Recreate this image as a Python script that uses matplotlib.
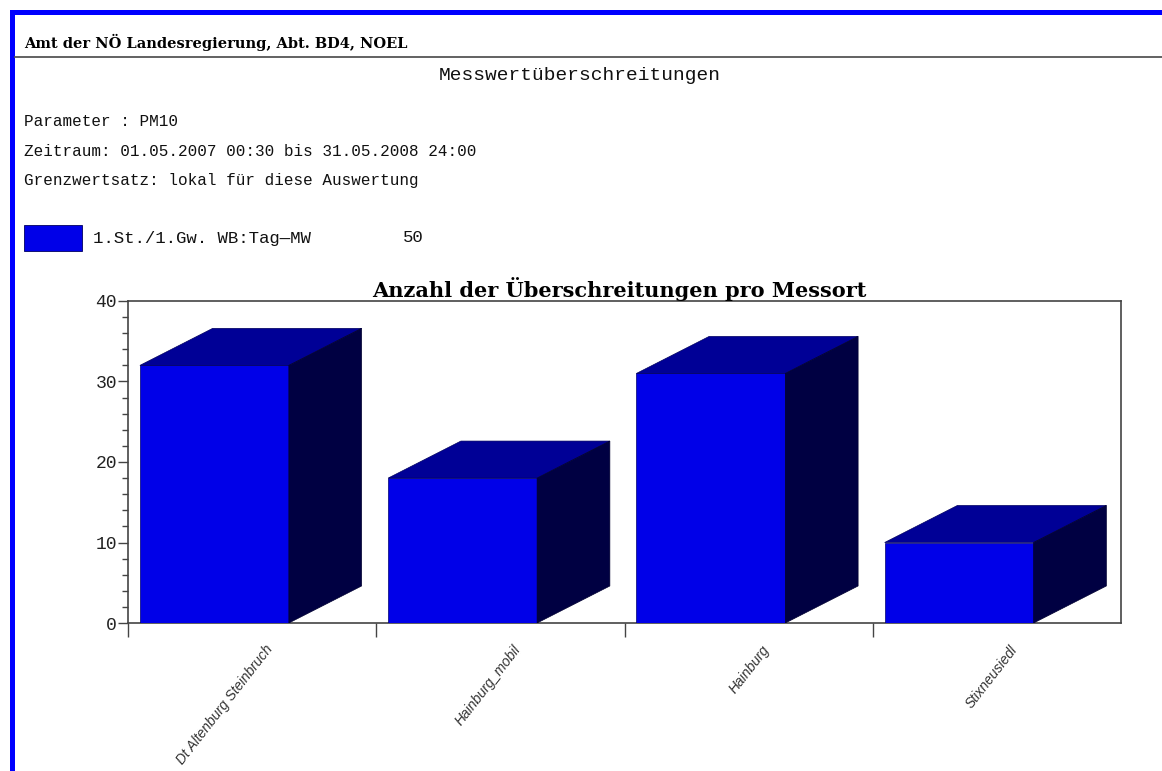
import matplotlib
matplotlib.use("Agg")
from matplotlib import pyplot as plt
from matplotlib.patches import Polygon, Rectangle
from matplotlib.lines import Line2D
from matplotlib.ticker import MultipleLocator, FixedLocator, NullFormatter

# data
stations = ["Dt Altenburg Steinbruch", "Hainburg_mobil", "Hainburg", "Stixneusiedl"]
counts = [32, 18, 31, 10]

header = "Amt der NÖ Landesregierung, Abt. BD4, NOEL"
report_title = "Messwertüberschreitungen"
info_lines = ["Parameter : PM10",
              "Zeitraum: 01.05.2007 00:30 bis 31.05.2008 24:00",
              "Grenzwertsatz: lokal für diese Auswertung"]
legend_label = "1.St./1.Gw. WB:Tag\u2014MW"
legend_value = "50"
chart_title = "Anzahl der Überschreitungen pro Messort"

W, H = 1162, 771
MONO = "Liberation Mono"


def px(x, y):
    # pixel position (from top left) -> figure fraction
    return x / W, 1 - y / H


def main():
    fig = plt.figure(figsize=(W / 100, H / 100), dpi=100)
    fig.patch.set_facecolor("white")

    # blue frame top and left
    fig.add_artist(Rectangle(px(10, 15), (W - 10) / W, 5 / H, transform=fig.transFigure,
                             facecolor="#0000FF", edgecolor="none"))
    fig.add_artist(Rectangle(px(10, H), 5 / W, (H - 10) / H, transform=fig.transFigure,
                             facecolor="#0000FF", edgecolor="none"))
    # grey rule under the header
    x0, y0 = px(15, 57)
    fig.add_artist(Line2D([x0, 1], [y0, y0], transform=fig.transFigure, color="#555555", lw=1.3))

    fig.text(*px(24, 42), header, family="DejaVu Serif", weight="bold", fontsize=10.5,
             va="center", ha="left")
    fig.text(*px(580, 76), report_title, family=MONO, fontsize=14,
             va="center", ha="center", color="#111111")
    for i, line in enumerate(info_lines):
        fig.text(*px(24, 122 + 29 * i), line, family=MONO, fontsize=11.5,
                 va="center", ha="left", color="#111111")

    # legend box
    fig.add_artist(Rectangle(px(24, 251), 58 / W, 26 / H, transform=fig.transFigure,
                             facecolor="#0000E8", edgecolor="#000060", lw=0.6))
    fig.text(*px(93, 238), legend_label, family=MONO, fontsize=12.5,
             va="center", ha="left", color="#111111")
    fig.text(*px(403, 238), legend_value, family=MONO, fontsize=12.5,
             va="center", ha="left", color="#111111")

    # chart
    ax = fig.add_axes([128 / W, (H - 623) / H, 993 / W, 322 / H])
    ax.set_xlim(0, 4)
    ax.set_ylim(0, 40)

    front = "#0000E8"
    top = "#000096"
    side = "#000042"
    offset, width = 0.048, 0.6
    dx, dy = 0.293, 4.6
    lefts = [i + offset for i in range(len(counts))]
    ax.bar(lefts, counts, width=width, align="edge", color=front,
           edgecolor="#000070", lw=0.5, zorder=3)
    for left, v in zip(lefts, counts):
        right = left + width
        ax.add_patch(Polygon([(left, v), (left + dx, v + dy), (right + dx, v + dy), (right, v)],
                             closed=True, facecolor=top, edgecolor="#000060", lw=0.5, zorder=3))
        ax.add_patch(Polygon([(right, 0), (right + dx, dy), (right + dx, v + dy), (right, v)],
                             closed=True, facecolor=side, edgecolor="#000030", lw=0.5, zorder=3))

    ax.set_title(chart_title, family="DejaVu Serif", weight="bold", fontsize=15, pad=2,
                 x=0.495)

    for s in ax.spines.values():
        s.set_color("#444444")
        s.set_linewidth(1.2)

    ax.yaxis.set_major_locator(MultipleLocator(10))
    ax.yaxis.set_minor_locator(MultipleLocator(2))
    ax.tick_params(axis="y", which="major", length=7, width=1, color="#444444",
                   labelsize=13, labelcolor="#222222", pad=1)
    ax.tick_params(axis="y", which="minor", length=4.5, width=1, color="#444444")
    for lbl in ax.get_yticklabels():
        lbl.set_family(MONO)

    ax.xaxis.set_major_locator(FixedLocator(range(len(stations))))
    ax.xaxis.set_major_formatter(NullFormatter())
    ax.xaxis.set_minor_locator(FixedLocator([i + 0.55 for i in range(len(stations))]))
    ax.set_xticklabels(stations, minor=True, rotation=52, ha="right",
                       rotation_mode="anchor", family="Liberation Sans",
                       style="italic", fontsize=10, color="#333333")
    ax.tick_params(axis="x", which="major", length=10, width=1, color="#444444")
    ax.tick_params(axis="x", which="minor", length=0, pad=14)

    fig.savefig("out.png", dpi=100, facecolor="white")


if __name__ == "__main__":
    main()
